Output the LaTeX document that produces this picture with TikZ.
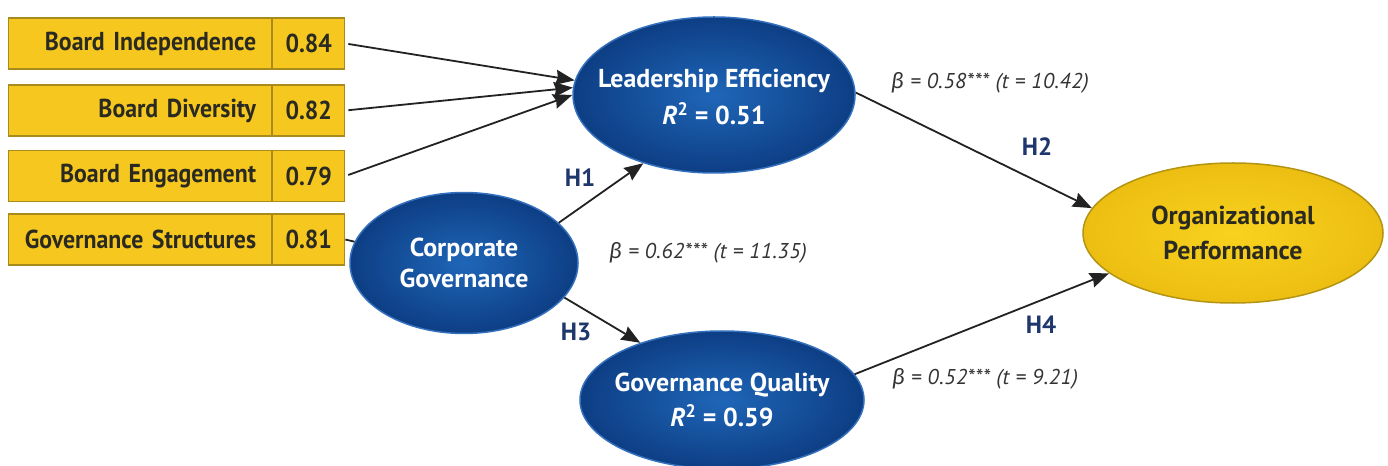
\documentclass[tikz,border=0pt]{standalone}
\usepackage{fontspec}
\setmainfont{PT Sans}
\newfontfamily\boxfont{PT Sans}[FakeStretch=0.92]
\newfontfamily\coeffont{PT Sans}[LetterSpace=2.5]
\newfontfamily\greekfont{Fira Sans}
\usetikzlibrary{shapes.geometric,arrows.meta}

\definecolor{boxfill}{HTML}{F6C81F}
\definecolor{boxline}{HTML}{A98A1C}
\definecolor{txtdark}{HTML}{2A2A22}
\definecolor{bluein}{HTML}{1F66B8}
\definecolor{blueout}{HTML}{0D3E84}
\definecolor{bluerim}{HTML}{3470BE}
\definecolor{goldin}{HTML}{F8D21E}
\definecolor{goldout}{HTML}{EDBE12}
\definecolor{goldrim}{HTML}{B39512}
\definecolor{navy}{HTML}{1F376C}
\definecolor{arrowc}{HTML}{222222}
\definecolor{labelc}{HTML}{333333}

\newcommand{\bet}{{\greekfont\itshape β}}

\begin{document}
\begin{tikzpicture}[x=1bp,y=-1bp,
  indbox/.style={draw=boxline, fill=boxfill, line width=1.2bp, inner sep=0pt,
    minimum height=51bp, anchor=west, text=txtdark,
    font=\boxfont\bfseries\fontsize{26}{30}\selectfont},
  itemname/.style={indbox, minimum width=263bp, text width=232bp, align=right},
  itemval/.style={indbox, minimum width=72bp, align=center},
  latent/.style={ellipse, draw=bluerim, line width=1.5bp, inner sep=0pt,
    inner color=bluein, outer color=blueout},
  outcome/.style={ellipse, draw=goldrim, line width=1.5bp, inner sep=0pt,
    inner color=goldin, outer color=goldout},
  lattext/.style={text=white, align=center, font=\bfseries\fontsize{26}{38}\selectfont},
  outtext/.style={text=txtdark, align=center, font=\bfseries\fontsize{26}{36}\selectfont},
  hyp/.style={text=navy, font=\bfseries\fontsize{25}{28}\selectfont},
  coef/.style={text=labelc, font=\coeffont\itshape\fontsize{21.5}{24}\selectfont},
  link/.style={draw=arrowc, line width=1.8bp, -{Stealth[length=19bp,width=15bp,inset=2bp]}},
  stub/.style={draw=arrowc, line width=1.8bp}
]
\useasboundingbox (0,0) rectangle (1388,466);
\fill[white] (0,0) rectangle (1388,466);

% indicator boxes
\node[itemname] (n1) at (8,43.5)  {Board Independence};
\node[itemval]  (v1) at (n1.east) {0.84};
\node[itemname] (n2) at (8,110.5) {Board Diversity};
\node[itemval]  (v2) at (n2.east) {0.82};
\node[itemname] (n3) at (8,176)   {Board Engagement};
\node[itemval]  (v3) at (n3.east) {0.79};
\node[itemname] (n4) at (8,239.5) {Governance Structures};
\node[itemval]  (v4) at (n4.east) {0.81};

% constructs
\node[latent, minimum width=282bp, minimum height=156bp] (LE) at (714,95) {};
\node[lattext] at ([yshift=-2bp]LE.center) {Leadership Efficiency\\\textit{R}\textsuperscript{2} = 0.51};

\node[latent, minimum width=228bp, minimum height=141bp] (CG) at (464,263) {};
\node[lattext, font=\bfseries\fontsize{26}{31}\selectfont] at (CG) {Corporate\\Governance};

\node[latent, minimum width=284bp, minimum height=138bp] (GQ) at (722,400) {};
\node[lattext, font=\bfseries\fontsize{26}{35}\selectfont] at (GQ) {Governance Quality\\\textit{R}\textsuperscript{2} = 0.59};

\node[outcome, minimum width=300bp, minimum height=140bp] (OP) at (1233,233) {};
\node[outtext] at (OP) {Organizational\\Performance};

% measurement links
\draw[link, shorten <=3bp] (v1.east) -- (LE.174);
\draw[link, shorten <=3bp] (v2.east) -- (LE.177);
\draw[link, shorten <=3bp] (v3.east) -- (LE.180);
\draw[stub] (v4.east) -- (CG.169);

% structural paths
\draw[link] (CG.23) -- (LE.224);
\draw[link] (CG.-19) -- (GQ.145);
\draw[link] (LE.1) -- (OP.170);
\draw[link] (GQ.11) -- (OP.198);

% path labels
\node[hyp] (h1) at (580,178) {H1};
\node[hyp] (h3) at (576,332) {H3};
\node[hyp] (h2) at (1037,147) {H2};
\node[hyp] (h4) at (1041,325) {H4};
\node[coef] (c1) at (990,83)  {\bet{} = 0.58*** (t = 10.42)};
\node[coef] (c2) at (708,253) {\bet{} = 0.62*** (t = 11.35)};
\node[coef] (c3) at (985,379) {\bet{} = 0.52*** (t = 9.21)};
\end{tikzpicture}
\end{document}
